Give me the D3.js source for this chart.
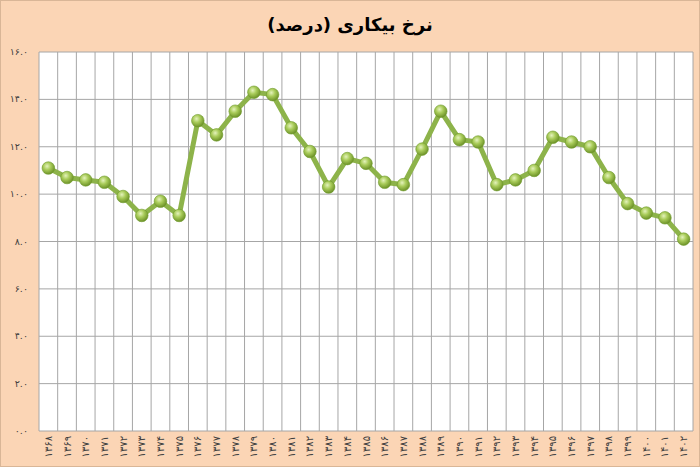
<!DOCTYPE html>
<html>
<head>
<meta charset="utf-8">
<script src="https://cdn.jsdelivr.net/npm/d3@7"></script>
<style>
  html, body { margin: 0; padding: 0; background: #fbd5b5; }
  svg { display: block; }
</style>
</head>
<body>
<svg width="700" height="467"></svg>
<script>
// سال‌ها و نرخ بیکاری
var years = [1368, 1369, 1370, 1371, 1372, 1373, 1374, 1375, 1376, 1377, 1378, 1379,
  1380, 1381, 1382, 1383, 1384, 1385, 1386, 1387, 1388, 1389, 1390, 1391,
  1392, 1393, 1394, 1395, 1396, 1397, 1398, 1399, 1400, 1401, 1402];
var rates = [11.1, 10.7, 10.6, 10.5, 9.9, 9.1, 9.7, 9.1, 13.1, 12.5, 13.5, 14.3,
  14.2, 12.8, 11.8, 10.3, 11.5, 11.3, 10.5, 10.4, 11.9, 13.5, 12.3, 12.2,
  10.4, 10.6, 11.0, 12.4, 12.2, 12.0, 10.7, 9.6, 9.2, 9.0, 8.1];
var yTicks = [0, 2, 4, 6, 8, 10, 12, 14, 16];
var title = "نرخ بیکاری (درصد)";

var fa = function (s) {
  return String(s).replace(/[0-9]/g, function (c) { return "۰۱۲۳۴۵۶۷۸۹"[+c]; });
};

var svg = d3.select("svg"),
  width = +svg.attr("width"),
  height = +svg.attr("height");

var plotLeft = 39, plotRight = 693, plotTop = 52, plotBottom = 431;

var data = years.map(function (y, i) { return { year: y, value: rates[i] }; });

var x = d3.scaleBand().domain(years).range([plotLeft, plotRight]).padding(0);
var y = d3.scaleLinear().domain([0, 16]).range([plotBottom, plotTop]);

// gradient for markers
var defs = svg.append("defs");
var grad = defs.append("radialGradient").attr("id", "ball")
  .attr("cx", "40%").attr("cy", "35%").attr("r", "65%");
grad.append("stop").attr("offset", "0%").attr("stop-color", "#e4f2bc");
grad.append("stop").attr("offset", "45%").attr("stop-color", "#a9cc5a");
grad.append("stop").attr("offset", "100%").attr("stop-color", "#6d9228");

// background + border
svg.append("rect").attr("x", 0.5).attr("y", 0.5)
  .attr("width", width - 1).attr("height", height - 1)
  .attr("fill", "#fbd5b5").attr("stroke", "#d9b697");

// plot area
svg.append("rect").attr("x", plotLeft).attr("y", plotTop)
  .attr("width", plotRight - plotLeft).attr("height", plotBottom - plotTop)
  .attr("fill", "#ffffff");

// horizontal gridlines
svg.append("g").selectAll("line").data(yTicks).enter().append("line")
  .attr("x1", plotLeft).attr("x2", plotRight)
  .attr("y1", function (d) { return y(d); })
  .attr("y2", function (d) { return y(d); })
  .attr("stroke", "#a6a6a6").attr("stroke-width", 1);

// vertical gridlines between categories
var edges = years.map(function (d) { return x(d); }).concat([x(years[years.length - 1]) + x.bandwidth()]);
svg.append("g").selectAll("line").data(edges).enter().append("line")
  .attr("x1", function (d) { return d; }).attr("x2", function (d) { return d; })
  .attr("y1", plotTop).attr("y2", plotBottom)
  .attr("stroke", "#a6a6a6").attr("stroke-width", 1);

// y labels
svg.append("g").selectAll("text").data(yTicks).enter().append("text")
  .attr("x", 28)
  .attr("y", function (d) { return y(d) + 3; })
  .attr("text-anchor", "end")
  .attr("font-family", "DejaVu Sans")
  .attr("font-size", "9.5px")
  .attr("fill", "#404040")
  .text(function (d) { return fa(d.toFixed(1)); });

// x labels (rotated)
svg.append("g").selectAll("text").data(years).enter().append("text")
  .attr("transform", function (d) {
    return "translate(" + (x(d) + x.bandwidth() / 2 + 3.5) + "," + (plotBottom + 5) + ") rotate(-90)";
  })
  .attr("text-anchor", "end")
  .attr("font-family", "DejaVu Sans")
  .attr("font-size", "10px")
  .attr("fill", "#404040")
  .text(function (d) { return fa(d); });

// line
var line = d3.line()
  .x(function (d) { return x(d.year) + x.bandwidth() / 2; })
  .y(function (d) { return y(d.value); });

svg.append("path").datum(data)
  .attr("d", line)
  .attr("fill", "none")
  .attr("stroke", "#8db34a")
  .attr("stroke-width", 5)
  .attr("stroke-linejoin", "round");

// markers
svg.append("g").selectAll("circle").data(data).enter().append("circle")
  .attr("cx", function (d) { return x(d.year) + x.bandwidth() / 2; })
  .attr("cy", function (d) { return y(d.value); })
  .attr("r", 6.3)
  .attr("fill", "url(#ball)")
  .attr("stroke", "#6f9a2c")
  .attr("stroke-width", 0.6);

// title
svg.append("text")
  .attr("x", width / 2).attr("y", 31)
  .attr("text-anchor", "middle")
  .attr("font-family", "DejaVu Sans")
  .attr("font-weight", "bold")
  .attr("font-size", "18px")
  .attr("fill", "#000")
  .text(title);
</script>
</body>
</html>
